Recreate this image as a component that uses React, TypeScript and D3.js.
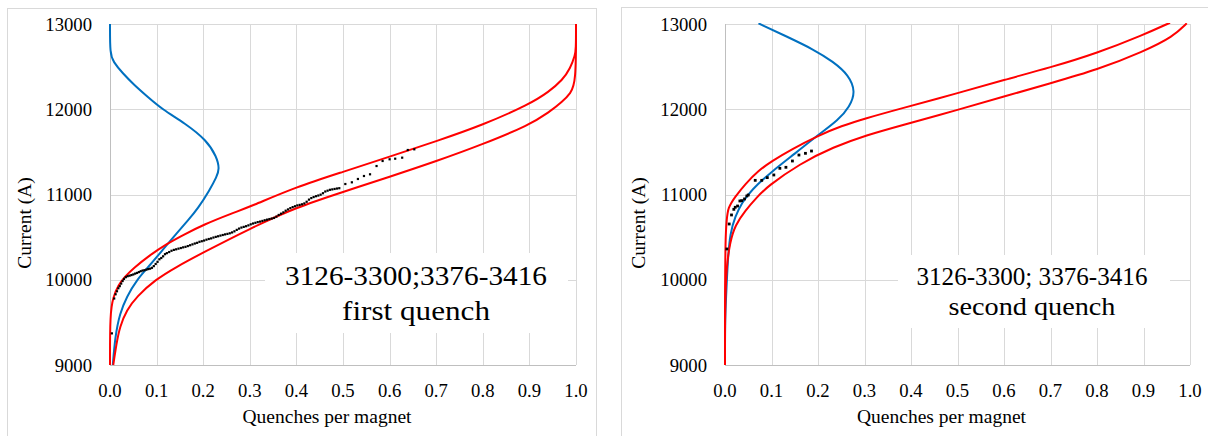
import React from "react";
import * as d3 from "d3";

type Pt = [number, number]; // [quenches per magnet, current]

const X_TICKS = [0, 0.1, 0.2, 0.3, 0.4, 0.5, 0.6, 0.7, 0.8, 0.9, 1.0];
const Y_TICKS = [9000, 10000, 11000, 12000, 13000];
const X_TITLE = "Quenches per magnet";
const Y_TITLE = "Current (A)";

// ---------- left panel: first quench ----------
const LEFT_LABEL = ["3126-3300;3376-3416", "first quench"];

const leftBlue: Pt[] = [
  [0.006, 9000], [0.011, 9332], [0.021, 9606], [0.036, 9801], [0.057, 9997],
  [0.086, 10173], [0.113, 10350], [0.143, 10545], [0.168, 10700], [0.188, 10830],
  [0.214, 11053], [0.229, 11209], [0.235, 11300], [0.229, 11443], [0.207, 11639],
  [0.161, 11836], [0.112, 12000], [0.080, 12150], [0.052, 12285], [0.027, 12422],
  [0.007, 12558], [0, 12648], [0, 13000],
];

const leftRedUpper: Pt[] = [
  [0, 9000], [0, 9606], [0.007, 9801], [0.018, 9938], [0.032, 10036], [0.05, 10134],
  [0.086, 10290], [0.121, 10419], [0.157, 10525], [0.2, 10645], [0.264, 10785],
  [0.3, 10855], [0.4, 11090], [0.5, 11265], [0.6, 11444], [0.7, 11625], [0.8, 11816],
  [0.9, 12058], [0.942, 12206], [0.971, 12343], [0.988, 12480], [0.998, 12636],
  [1.0, 12700], [1.0, 13000],
];

const leftRedLower: Pt[] = [
  [0.007, 9000], [0.014, 9254], [0.021, 9449], [0.036, 9645], [0.057, 9801],
  [0.097, 10000], [0.143, 10153], [0.2, 10320], [0.3, 10600], [0.4, 10850],
  [0.5, 11030], [0.6, 11208], [0.7, 11390], [0.8, 11589], [0.9, 11816],
  [0.942, 11964], [0.971, 12089], [0.988, 12187], [1.0, 12304], [1.0, 13000],
];

const leftDots: Pt[] = [
  [0.004, 9371], [0.009, 9780], [0.012, 9830], [0.015, 9865], [0.018, 9900],
  [0.021, 9925], [0.024, 9955], [0.027, 9985], [0.030, 10010], [0.034, 10030],
  [0.038, 10042], [0.042, 10048], [0.046, 10055], [0.050, 10062], [0.054, 10072],
  [0.058, 10080], [0.062, 10090], [0.066, 10100], [0.070, 10108], [0.074, 10112],
  [0.078, 10118], [0.082, 10125], [0.086, 10130], [0.090, 10140], [0.094, 10160],
  [0.098, 10185], [0.102, 10210], [0.106, 10240], [0.110, 10255], [0.114, 10275],
  [0.118, 10300], [0.122, 10312], [0.127, 10325], [0.132, 10340], [0.137, 10350],
  [0.142, 10357], [0.147, 10365], [0.152, 10372], [0.157, 10380], [0.162, 10386],
  [0.167, 10395], [0.172, 10405], [0.177, 10415], [0.182, 10425], [0.187, 10433],
  [0.192, 10445], [0.197, 10452], [0.202, 10460], [0.207, 10470], [0.212, 10478],
  [0.217, 10485], [0.222, 10495], [0.227, 10503], [0.232, 10510], [0.237, 10518],
  [0.242, 10525], [0.247, 10532], [0.252, 10538], [0.257, 10545], [0.262, 10555],
  [0.267, 10568], [0.272, 10585], [0.277, 10600], [0.282, 10612], [0.287, 10620],
  [0.292, 10628], [0.297, 10638], [0.302, 10650], [0.307, 10660], [0.312, 10668],
  [0.317, 10676], [0.322, 10682], [0.327, 10690], [0.332, 10698], [0.337, 10705],
  [0.342, 10712], [0.347, 10718], [0.352, 10725], [0.357, 10740], [0.362, 10760],
  [0.367, 10775], [0.372, 10790], [0.377, 10810], [0.382, 10825], [0.387, 10840],
  [0.392, 10852], [0.397, 10862], [0.402, 10872], [0.407, 10878], [0.412, 10885],
  [0.417, 10895], [0.422, 10915], [0.427, 10940], [0.432, 10958], [0.437, 10970],
  [0.442, 10980], [0.447, 10988], [0.452, 10998], [0.457, 11015], [0.462, 11035],
  [0.467, 11045], [0.472, 11055], [0.477, 11060], [0.482, 11065], [0.487, 11070],
  [0.492, 11074], [0.505, 11123], [0.519, 11143], [0.532, 11182], [0.545, 11217],
  [0.558, 11237], [0.572, 11334], [0.585, 11393], [0.600, 11413], [0.612, 11420],
  [0.627, 11432], [0.639, 11522], [0.653, 11530],
];

// ---------- right panel: second quench ----------
const RIGHT_LABEL = ["3126-3300; 3376-3416", "second quench"];

const rightBlue: Pt[] = [
  [0, 9000], [0, 9500], [0.002, 9762], [0.006, 10235], [0.011, 10548],
  [0.022, 10743], [0.036, 10900], [0.057, 11056], [0.1, 11267], [0.151, 11482],
  [0.2, 11698], [0.244, 11874], [0.268, 12030], [0.281, 12206], [0.266, 12402],
  [0.233, 12558], [0.19, 12703], [0.133, 12852], [0.072, 13008],
];

const rightRedUpper: Pt[] = [
  [0, 9000], [0, 10650], [0.007, 10857], [0.022, 10974], [0.043, 11120],
  [0.072, 11280], [0.1, 11390], [0.143, 11530], [0.2, 11690], [0.251, 11805],
  [0.3, 11890], [0.376, 12005], [0.5, 12188], [0.6, 12345],
  [0.7, 12490], [0.8, 12658], [0.9, 12873], [0.957, 13015],
];

const rightRedLower: Pt[] = [
  [0, 9000], [0, 9700], [0.003, 10150], [0.011, 10450], [0.022, 10640],
  [0.043, 10810], [0.07, 10975], [0.09, 11089], [0.161, 11362], [0.233, 11557],
  [0.305, 11698], [0.376, 11806], [0.5, 11992], [0.6, 12149],
  [0.7, 12306], [0.8, 12462], [0.9, 12677], [0.964, 12852], [0.993, 13008],
];

const rightDots: Pt[] = [
  [0.004, 10361], [0.009, 10654], [0.014, 10760], [0.019, 10826], [0.022, 10850],
  [0.027, 10865], [0.032, 10924], [0.036, 10928], [0.042, 10948], [0.047, 10983],
  [0.05, 10994], [0.065, 11166], [0.079, 11166], [0.091, 11198], [0.105, 11229],
  [0.118, 11307], [0.131, 11319], [0.145, 11393], [0.159, 11463], [0.173, 11483],
  [0.186, 11510],
];

// ---------- layout ----------
const W = 1208;
const H = 436;
const PLOT_TOP = 24;
const PLOT_BOTTOM = 365;
const GRID = "#d9d9d9";
const AXIS = "#bfbfbf";
const RED = "#ff0000";
const BLUE = "#0070c0";
const SERIF = "'Liberation Serif', 'Times New Roman', Times, serif";

type PanelProps = {
  id: string;
  frame: { x: number; y: number };
  x0: number;
  x1: number;
  blue: Pt[];
  redUpper: Pt[];
  redLower: Pt[];
  dots: Pt[];
  dotSize: number;
  label: string[];
  labelBox: { x: number; y: number; w: number; h: number };
  labelCx: number;
  labelBase: [number, number];
  labelSize: number;
  labelLen: [number, number];
};

function Panel(p: PanelProps) {
  const x = d3.scaleLinear().domain([0, 1]).range([p.x0, p.x1]);
  const y = d3.scaleLinear().domain([9000, 13000]).range([PLOT_BOTTOM, PLOT_TOP]);
  const line = d3
    .line<Pt>()
    .x((d) => x(d[0]))
    .y((d) => y(d[1]))
    .curve(d3.curveBasis);
  const clipId = `clip-${p.id}`;
  const titleCx = (p.x0 + p.x1) / 2 - 16;
  return (
    <g>
      <rect
        x={p.frame.x + 0.5}
        y={p.frame.y + 0.5}
        width={589}
        height={460}
        fill="#ffffff"
        stroke={GRID}
        strokeWidth={1}
      />
      <defs>
        <clipPath id={clipId}>
          <rect x={p.x0 - 3} y={PLOT_TOP - 1} width={p.x1 - p.x0 + 6} height={PLOT_BOTTOM - PLOT_TOP + 2} />
        </clipPath>
      </defs>
      {X_TICKS.slice(1).map((t) => (
        <line
          key={`vx${t}`}
          x1={Math.round(x(t)) + 0.5}
          x2={Math.round(x(t)) + 0.5}
          y1={PLOT_TOP}
          y2={PLOT_BOTTOM}
          stroke={GRID}
          strokeWidth={1}
        />
      ))}
      {Y_TICKS.slice(1).map((t) => (
        <line
          key={`hy${t}`}
          x1={p.x0}
          x2={p.x1}
          y1={Math.round(y(t)) + 0.5}
          y2={Math.round(y(t)) + 0.5}
          stroke={GRID}
          strokeWidth={1}
        />
      ))}
      <line x1={p.x0 + 0.5} x2={p.x0 + 0.5} y1={PLOT_TOP} y2={PLOT_BOTTOM} stroke={AXIS} strokeWidth={1} />
      <line x1={p.x0} x2={p.x1} y1={PLOT_BOTTOM + 0.5} y2={PLOT_BOTTOM + 0.5} stroke={AXIS} strokeWidth={1} />
      <rect x={p.labelBox.x} y={p.labelBox.y} width={p.labelBox.w} height={p.labelBox.h} fill="#ffffff" />
      {p.label.map((s, i) => (
        <text
          key={`lab${i}`}
          x={p.labelCx}
          y={p.labelBase[i]}
          textAnchor="middle"
          fontFamily={SERIF}
          fontSize={p.labelSize}
          fill="#000"
          textLength={p.labelLen[i]}
          lengthAdjust="spacingAndGlyphs"
        >
          {s}
        </text>
      ))}
      <g clipPath={`url(#${clipId})`}>
        <path d={line(p.blue) || ""} fill="none" stroke={BLUE} strokeWidth={2} />
        <path d={line(p.redUpper) || ""} fill="none" stroke={RED} strokeWidth={2} />
        <path d={line(p.redLower) || ""} fill="none" stroke={RED} strokeWidth={2} />
        {p.dots.map((d, i) => (
          <rect
            key={`d${i}`}
            x={x(d[0]) - p.dotSize / 2}
            y={y(d[1]) - p.dotSize / 2}
            width={p.dotSize}
            height={p.dotSize}
            fill="#000"
          />
        ))}
      </g>
      {Y_TICKS.map((t) => (
        <text
          key={`yl${t}`}
          x={p.x0 - 18}
          y={y(t) + 6.5}
          textAnchor="end"
          fontFamily={SERIF}
          fontSize={18.7}
          fill="#000"
        >
          {String(t)}
        </text>
      ))}
      {X_TICKS.map((t) => (
        <text
          key={`xl${t}`}
          x={x(t)}
          y={397}
          textAnchor="middle"
          fontFamily={SERIF}
          fontSize={18.7}
          fill="#000"
        >
          {d3.format(".1f")(t)}
        </text>
      ))}
      <text x={titleCx} y={423} textAnchor="middle" fontFamily={SERIF} fontSize={19.5} fill="#000">
        {X_TITLE}
      </text>
      <text
        transform={`translate(${p.frame.x + 24},223) rotate(-90)`}
        textAnchor="middle"
        fontFamily={SERIF}
        fontSize={19.5}
        fill="#000"
      >
        {Y_TITLE}
      </text>
    </g>
  );
}

export default function App() {
  return (
    <svg
      width={W}
      height={H}
      viewBox={`0 0 ${W} ${H}`}
      style={{ position: "absolute", left: 0, top: 0, background: "#ffffff" }}
    >
      <rect x={0} y={0} width={W} height={H} fill="#ffffff" />
      <Panel
        id="left"
        frame={{ x: 7, y: 8 }}
        x0={110}
        x1={576}
        blue={leftBlue}
        redUpper={leftRedUpper}
        redLower={leftRedLower}
        dots={leftDots}
        dotSize={2.2}
        label={LEFT_LABEL}
        labelBox={{ x: 265, y: 253, w: 303, h: 80 }}
        labelCx={416}
        labelBase={[285, 320]}
        labelSize={28}
        labelLen={[262, 148]}
      />
      <Panel
        id="right"
        frame={{ x: 621, y: 7 }}
        x0={725}
        x1={1190}
        blue={rightBlue}
        redUpper={rightRedUpper}
        redLower={rightRedLower}
        dots={rightDots}
        dotSize={2.8}
        label={RIGHT_LABEL}
        labelBox={{ x: 898, y: 255, w: 272, h: 73 }}
        labelCx={1032}
        labelBase={[285, 315]}
        labelSize={25}
        labelLen={[231, 167]}
      />
    </svg>
  );
}
